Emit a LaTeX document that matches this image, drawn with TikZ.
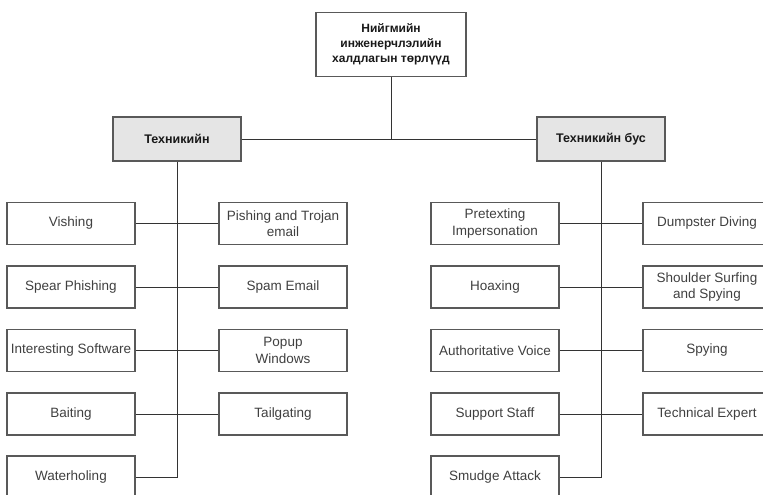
\documentclass[tikz,border=0pt]{standalone}
\usepackage{fontspec}
\setmainfont{Liberation Sans}
\begin{document}
\begin{tikzpicture}[x=1pt, y=-1pt,
    leaf/.style={draw=black!65, line width=1.2pt, fill=white, minimum width=128pt, minimum height=42pt,
        inner sep=0pt, align=center, text=black!75, font=\fontsize{13.5}{16.5}\selectfont},
    head/.style={leaf, fill=black!10, minimum height=44pt, text=black!90, font=\bfseries\fontsize{12.5}{14}\selectfont},
    root/.style={head, fill=white, minimum width=150pt, minimum height=64pt, font=\bfseries\fontsize{12}{15}\selectfont},
    link/.style={draw=black!80, line width=1pt}]
    \useasboundingbox (0,0) rectangle (763,495);
    \clip (0,0) rectangle (763,495);
    \node[root] (root) at (391,44.5) {Нийгмийн\\инженерчлэлийн\\халдлагын төрлүүд};
    \node[head] (tech) at (177,139) {Техникийн};
    \node[head] (nontech) at (601,139) {Техникийн бус};
    % technical
    \node[leaf] (vish) at (71,223.5) {Vishing};
    \node[leaf] (spear) at (71,287) {Spear Phishing};
    \node[leaf] (soft) at (71,350.5) {Interesting Software};
    \node[leaf] (bait) at (71,414) {Baiting};
    \node[leaf] (water) at (71,477) {Waterholing};
    \node[leaf] (troj) at (283,223.5) {Pishing and Trojan\\email};
    \node[leaf] (spam) at (283,287) {Spam Email};
    \node[leaf] (popup) at (283,350.5) {Popup\\Windows};
    \node[leaf] (tail) at (283,414) {Tailgating};
    % non-technical
    \node[leaf] (pretext) at (495,223.5) {Pretexting\\Impersonation};
    \node[leaf] (hoax) at (495,287) {Hoaxing};
    \node[leaf] (voice) at (495,350.5) {Authoritative Voice};
    \node[leaf] (staff) at (495,414) {Support Staff};
    \node[leaf] (smudge) at (495,477) {Smudge Attack};
    \node[leaf] (dump) at (707,223.5) {Dumpster Diving};
    \node[leaf] (shoulder) at (707,287) {Shoulder Surfing\\and Spying};
    \node[leaf] (spy) at (707,350.5) {Spying};
    \node[leaf] (expert) at (707,414) {Technical Expert};
    % connectors
    \draw[link] (root.south) -- (root.south |- tech.east);
    \draw[link] (tech.east) -- (nontech.west);
    \draw[link] (tech.south) |- (water.east);
    \draw[link] (nontech.south) |- (smudge.east);
    \draw[link] (vish.east) -- (troj.west);
    \draw[link] (spear.east) -- (spam.west);
    \draw[link] (soft.east) -- (popup.west);
    \draw[link] (bait.east) -- (tail.west);
    \draw[link] (pretext.east) -- (dump.west);
    \draw[link] (hoax.east) -- (shoulder.west);
    \draw[link] (voice.east) -- (spy.west);
    \draw[link] (staff.east) -- (expert.west);
\end{tikzpicture}
\end{document}
